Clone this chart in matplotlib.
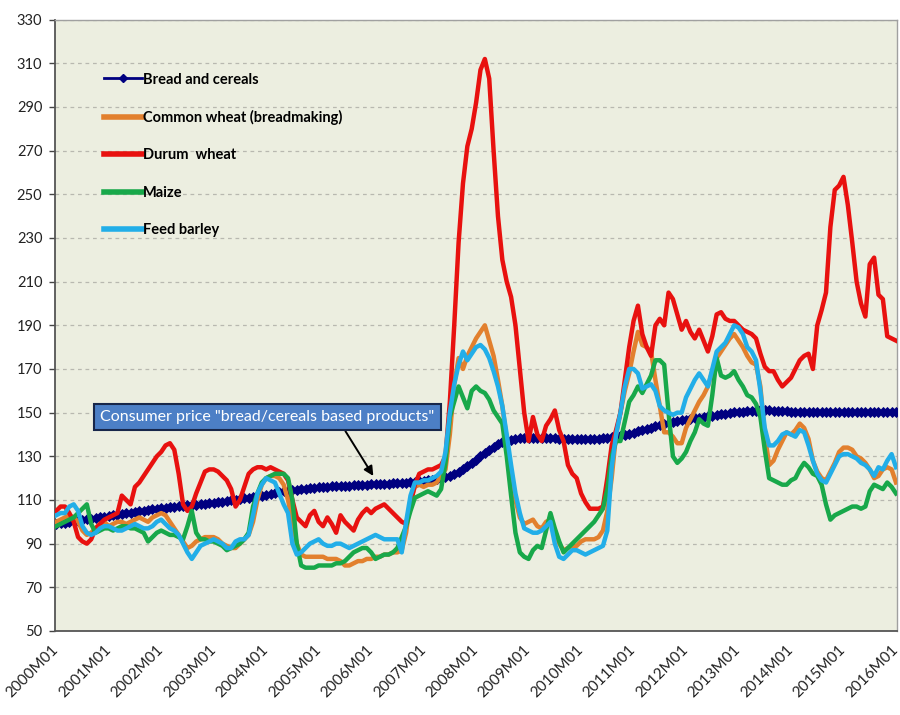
import matplotlib
matplotlib.use("Agg")
import matplotlib.pyplot as plt
from matplotlib.lines import Line2D

# ---------------- data (monthly indices, 2000M01 .. 2016M01) ----------------
years = list(range(2000, 2017))
months = [f"{y}M{m:02d}" for y in range(2000, 2016) for m in range(1, 13)] + ["2016M01"]
tick_labels = [f"{y}M01" for y in years]

bread = [
    99.0, 99.3, 99.6, 99.9, 100.2, 100.5, 100.8, 101.1, 101.4, 101.7, 102.0, 102.3,
    102.7, 103.0, 103.3, 103.6, 103.9, 104.2, 104.5, 104.8, 105.1, 105.4, 105.7, 106.0,
    106.3, 106.5, 106.7, 106.9, 107.1, 107.3, 107.5, 107.7, 107.9, 108.1, 108.3, 108.5,
    108.7, 109.0, 109.3, 109.6, 109.9, 110.2, 110.5, 110.8, 111.1, 111.4, 111.7, 112.0,
    112.3, 112.7, 113.1, 113.5, 113.9, 114.2, 114.5, 114.8, 115.0, 115.2, 115.4, 115.6,
    115.8, 116.0, 116.1, 116.2, 116.3, 116.4, 116.5, 116.6, 116.7, 116.8, 116.9, 117.0,
    117.1, 117.2, 117.3, 117.4, 117.5, 117.6, 117.7, 117.8, 118.0, 118.2, 118.4, 118.6,
    118.8, 119.0, 119.3, 119.6, 120.0, 120.5, 121.0, 121.8, 122.8, 124.0, 125.5, 127.0,
    128.5, 130.0, 131.5, 133.0, 134.3, 135.5, 136.5, 137.2, 137.7, 138.0, 138.2, 138.3,
    138.4, 138.4, 138.4, 138.3, 138.3, 138.2, 138.2, 138.1, 138.1, 138.0, 138.0, 138.0,
    138.0, 138.0, 138.0, 138.0, 138.1, 138.2, 138.4, 138.7, 139.0, 139.4, 139.8, 140.3,
    140.8, 141.4, 142.0, 142.6, 143.2, 143.8, 144.3, 144.8, 145.3, 145.7, 146.1, 146.5,
    146.8, 147.1, 147.4, 147.7, 148.0, 148.3, 148.6, 148.9, 149.2, 149.5, 149.8, 150.1,
    150.3, 150.5, 150.7, 150.8, 150.9, 151.0, 151.0, 151.0, 150.9, 150.8, 150.7, 150.6,
    150.5, 150.5, 150.4, 150.4, 150.4, 150.4, 150.4, 150.4, 150.4, 150.4, 150.4, 150.4,
    150.3, 150.3, 150.3, 150.3, 150.3, 150.3, 150.3, 150.3, 150.3, 150.3, 150.3, 150.3,
    150.2,
]

common_wheat = [
    100, 101, 102, 103, 102, 100, 96, 94, 95, 97, 99, 100,
    98, 99, 100, 100, 99, 100, 101, 102, 101, 100, 102, 103,
    104, 103, 100, 97, 94, 91, 88, 89, 91, 92, 93, 93,
    93, 92, 90, 89, 88, 88, 90, 92, 94, 100, 110, 117,
    120, 121, 121, 120, 117, 110, 100, 90, 85, 84, 84, 84,
    84, 84, 83, 83, 83, 82, 80, 80, 81, 82, 82, 83,
    83, 84, 84, 85, 85, 86, 86, 87, 95, 110, 116, 117,
    116, 117, 117, 118, 121, 124, 140, 163, 175, 170, 176, 180,
    184, 187, 190, 183, 176, 165, 153, 138, 122, 110, 102, 99,
    100, 101, 98, 97, 100, 101, 96, 90, 87, 88, 89, 89,
    91, 92, 92, 92, 93, 96, 105, 120, 140, 150, 160, 168,
    178, 187, 181, 180, 178, 165, 153, 141, 141, 139, 136, 136,
    143, 147, 151, 155, 158, 162, 169, 175, 178, 181, 184, 186,
    183, 180, 176, 173, 172, 162, 140, 126, 128, 133, 137, 141,
    140, 142, 145, 143, 138, 128, 123, 120, 119, 123, 127, 132,
    134, 134, 133, 130, 129, 127, 124, 120, 121, 124, 125, 124,
    118,
]

durum_wheat = [
    105, 107, 107, 104, 100, 93, 91, 90, 92, 97, 99, 101,
    102, 103, 104, 112, 110, 108, 116, 118, 121, 124, 127, 130,
    132, 135, 136, 133, 122, 108, 105, 107, 113, 118, 123, 124,
    124, 123, 121, 119, 115, 107, 110, 116, 122, 124, 125, 125,
    124, 125, 124, 123, 122, 119, 110, 102, 100, 98, 103, 105,
    100, 98, 102, 99, 95, 103, 100, 98, 96, 101, 104, 106,
    104, 106, 107, 108, 106, 104, 102, 100, 99, 108, 117, 122,
    123, 124, 124, 125, 126, 130, 155, 190, 228, 255, 272, 280,
    292, 307, 312, 303, 270, 240, 220, 210, 203, 190, 170, 150,
    137, 148, 140, 137, 144, 147, 151, 142, 137, 126, 122, 120,
    113, 109, 106, 106, 106, 107, 120, 135, 142, 150, 165, 180,
    192, 199, 186, 180, 176, 190, 193, 190, 205, 202, 195, 188,
    192, 187, 184, 188, 183, 178, 185, 195, 196, 193, 192, 192,
    190, 188, 187, 186, 184, 177, 171, 169, 169, 165, 162, 164,
    166, 170, 174, 176, 177, 170, 190, 197, 205, 235, 252, 254,
    258, 245, 228, 210, 200, 194, 218, 221, 204, 202, 185, 184,
    183,
]

maize = [
    98, 99, 100, 101, 102, 104, 106, 108, 99, 95, 96, 97,
    97, 96, 97, 98, 98, 97, 97, 96, 95, 91, 93, 95,
    96, 95, 94, 94, 93, 92, 98, 105, 95, 92, 92, 91,
    91, 90, 89, 87, 88, 89, 90, 92, 95, 107, 113, 118,
    120, 121, 122, 122, 122, 120, 110, 90, 80, 79, 79, 79,
    80, 80, 80, 80, 81, 81, 82, 84, 86, 87, 88, 88,
    86, 83, 84, 85, 85, 86, 88, 93, 98, 105, 111, 112,
    113, 114, 113, 112, 115, 127, 148, 155, 162, 157, 152, 160,
    162, 160, 159, 156, 151, 148, 145, 130, 112, 95, 86, 84,
    83, 87, 89, 88, 96, 104, 97, 91, 86, 88, 90, 92,
    94, 96, 98, 100, 103, 106, 115, 130, 137, 137, 146, 155,
    158, 162, 159, 163, 167, 174, 174, 172, 150, 130, 127, 129,
    132, 137, 141, 147, 145, 144, 158, 175, 167, 166, 167, 169,
    165, 162, 158, 157, 154, 148, 133, 120, 119, 118, 117, 117,
    119, 120, 124, 127, 125, 122, 121, 117, 108, 101, 103, 104,
    105, 106, 107, 107, 106, 107, 114, 117, 116, 115, 118, 116,
    113,
]

feed_barley = [
    103, 104, 104, 107, 108, 105, 98, 95, 94, 95, 97, 98,
    98, 97, 96, 96, 97, 98, 99, 98, 97, 97, 98, 100,
    101, 99, 97, 96, 94, 90, 86, 83, 86, 89, 90, 91,
    92, 91, 90, 88, 88, 91, 92, 92, 94, 103, 113, 117,
    120, 119, 118, 113, 108, 104, 90, 85, 86, 88, 90, 91,
    92, 90, 89, 89, 90, 90, 89, 88, 89, 90, 91, 92,
    93, 94, 93, 92, 92, 92, 92, 86, 100, 112, 118, 118,
    119, 119, 120, 121, 123, 132, 150, 163, 172, 178, 174, 177,
    180, 181, 179, 175, 169, 162, 153, 140, 126, 113, 104, 97,
    96, 95, 95, 96, 98, 100, 90, 84, 83, 85, 87, 87,
    86, 85, 86, 87, 88, 89, 96, 125, 140, 150, 162, 170,
    170, 168, 161, 162, 163, 160, 153, 151, 150, 149, 150, 150,
    157, 161, 165, 168, 165, 162, 170, 178, 180, 182, 186, 190,
    189, 186, 180, 178, 174, 160, 143, 135, 135, 137, 140, 141,
    140, 139, 142, 141, 135, 128, 122, 119, 118, 122, 126, 130,
    131, 131, 130, 129, 127, 126, 124, 121, 125, 124, 128, 131,
    125,
]

series_names = ["Bread and cereals", "Common wheat (breadmaking)", "Durum  wheat",
                "Maize", "Feed barley"]
y_ticks = list(range(50, 331, 20))
annotation_text = 'Consumer price "bread/cereals based products"'

# ---------------- styling ----------------
FONT = ["Lato", "DejaVu Sans"]
plt.rcParams["font.family"] = FONT

c_navy = "#000080"
c_orange = "#E2802E"
c_red = "#E8110F"
c_green = "#18A84A"
c_blue = "#22AEE8"

fig = plt.figure(figsize=(9.0, 7.15), dpi=100)
ax = fig.add_axes([0.061, 0.1175, 0.936, 0.855])
ax.set_facecolor("#ECEEE0")

x = list(range(len(months)))
lw = 3.2
ax.plot(x, bread, color=c_navy, lw=2.2, marker="D", markersize=5.2,
        markeredgewidth=0.6, zorder=3)
ax.plot(x, common_wheat, color=c_orange, lw=lw, zorder=4, solid_joinstyle="round")
ax.plot(x, durum_wheat, color=c_red, lw=lw, zorder=5, solid_joinstyle="round")
ax.plot(x, maize, color=c_green, lw=lw, zorder=6, solid_joinstyle="round")
ax.plot(x, feed_barley, color=c_blue, lw=lw, zorder=7, solid_joinstyle="round")

ax.set_xlim(-0.3, len(months) - 0.7)
ax.set_ylim(50, 330)
ax.set_yticks(y_ticks)
ax.set_yticklabels([str(v) for v in y_ticks], fontsize=10.5, color="#222222")
ax.set_xticks(list(range(0, len(months), 12)))
ax.set_xticklabels(tick_labels, rotation=45, ha="right", va="center",
                   rotation_mode="anchor", fontsize=11, color="#222222")
ax.tick_params(axis="y", length=4, width=1, color="#444444", pad=5)
ax.tick_params(axis="x", length=0, pad=12)

ax.grid(axis="y", color="#B8B8B0", linestyle=(0, (3, 3)), linewidth=0.9)
ax.set_axisbelow(True)
for side in ["left", "bottom"]:
    ax.spines[side].set_color("#555555")
    ax.spines[side].set_linewidth(1.3)
for side in ["top", "right"]:
    ax.spines[side].set_color("#A0A0A0")
    ax.spines[side].set_linewidth(1.0)

# legend
handles = [
    Line2D([], [], color=c_navy, lw=2.0, marker="D", markersize=4.5),
    Line2D([], [], color=c_orange, lw=4),
    Line2D([], [], color=c_red, lw=4),
    Line2D([], [], color=c_green, lw=4),
    Line2D([], [], color=c_blue, lw=4),
]
leg = ax.legend(handles, series_names, loc="upper left",
                bbox_to_anchor=(0.051, 0.923), frameon=False,
                prop={"family": FONT, "weight": "bold", "size": 10.5},
                handlelength=2.6, handletextpad=0.12, labelspacing=1.6,
                borderaxespad=0)

# annotation
ax.annotate(annotation_text, xy=(72.5, 121), xytext=(48.3, 148.0),
            textcoords="data", ha="center", va="center",
            fontsize=11.5, color="white", family=FONT,
            bbox=dict(boxstyle="square,pad=0.4", fc="#4C7FC6", ec="#17264A", lw=1.5),
            arrowprops=dict(arrowstyle="-|>", color="black", lw=1.4,
                            mutation_scale=14, relpos=(0.72, 0.0),
                            shrinkA=0, shrinkB=0),
            zorder=10)

fig.savefig("out.png", dpi=100, facecolor="white")
